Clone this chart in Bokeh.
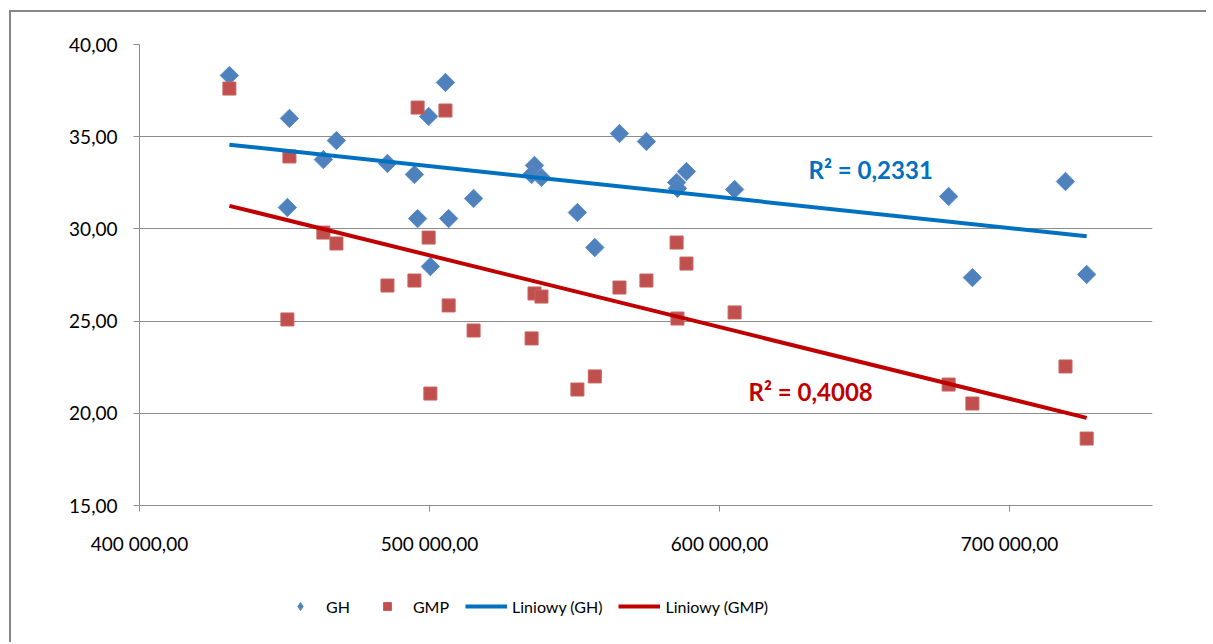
import numpy as np
from bokeh.plotting import figure
from bokeh.layouts import column
from bokeh.models import (FixedTicker, CustomJSTickFormatter, Legend, LegendItem,
                          ColumnDataSource, Range1d)
from bokeh.core.properties import value
from bokeh.embed import file_html
from bokeh.resources import INLINE

# ---- data ----
x_vals = [431000, 451700, 451000, 463400, 467900, 485500, 494800, 495900, 499700,
          500300, 505500, 506600, 515200, 536200, 535200, 538600, 551000, 557000,
          565500, 574800, 585200, 585500, 588600, 605200, 679000, 687200, 719300,
          726600]
gh_vals = [38.32, 35.99, 31.16, 33.76, 34.79, 33.55, 32.95, 30.56, 36.10,
           27.96, 37.94, 30.56, 31.65, 33.44, 32.95, 32.79, 30.89, 28.99,
           35.17, 34.74, 32.52, 32.20, 33.11, 32.14, 31.76, 27.36, 32.57,
           27.53]
gmp_vals = [37.61, 33.93, 25.09, 29.80, 29.21, 26.93, 27.20, 36.58, 29.53,
            21.07, 36.42, 25.85, 24.49, 26.50, 24.06, 26.33, 21.29, 22.00,
            26.82, 27.20, 29.26, 25.14, 28.12, 25.47, 21.56, 20.53, 22.54,
            18.63]
series_names = ["GH", "GMP", "Liniowy (GH)", "Liniowy (GMP)"]
r2_labels = ["R\u00b2 = 0,2331", "R\u00b2 = 0,4008"]
r2_pos_x = [630700, 610000]
r2_pos_y = [33.22, 21.18]
y_ticks = [15, 20, 25, 30, 35, 40]
x_ticks = [400000, 500000, 600000, 700000]

FONT = "Lato"
GRID = "#8c8c8c"
GH_COLOR, GH_EDGE = "#4F81BD", "#5B8CC6"
GMP_COLOR, GMP_EDGE = "#C0504D", "#C8625F"
TR_GH, TR_GMP = "#0070C0", "#C00000"

p = figure(width=1195, height=568, output_backend="svg", toolbar_location=None,
           x_range=Range1d(400000, 749300), y_range=Range1d(15, 40),
           min_border_left=128, min_border_right=54, min_border_top=32,
           min_border_bottom=75, background_fill_color="white",
           border_fill_color="white")
p.outline_line_color = None

# axes
p.yaxis.ticker = FixedTicker(ticks=y_ticks)
p.xaxis.ticker = FixedTicker(ticks=x_ticks)
p.yaxis.formatter = CustomJSTickFormatter(code="return tick.toFixed(2).replace('.', ',');")
p.xaxis.formatter = CustomJSTickFormatter(code="""
const s = tick.toFixed(2);
const parts = s.split('.');
return parts[0].replace(/\\B(?=(\\d{3})+(?!\\d))/g, ' ') + ',' + parts[1];
""")
for ax in (p.xaxis, p.yaxis):
    ax.axis_line_color = GRID
    ax.major_tick_line_color = GRID
    ax.major_tick_out = 6
    ax.major_tick_in = 0
    ax.minor_tick_line_color = None
    ax.major_label_text_font = FONT
    ax.major_label_text_font_size = "19px"
    ax.major_label_text_color = "#000000"
p.yaxis.major_label_standoff = 16
p.xaxis.major_label_standoff = 20

p.xgrid.grid_line_color = None
p.ygrid.grid_line_color = GRID
p.ygrid.grid_line_width = 1

# scatter
src = ColumnDataSource(dict(x=x_vals, gh=gh_vals, gmp=gmp_vals))
p.scatter("x", "gh", source=src, marker="square", size=13, angle=np.pi / 4,
          fill_color=GH_COLOR, line_color=GH_EDGE, line_width=1)
p.scatter("x", "gmp", source=src, marker="square", size=13,
          fill_color=GMP_COLOR, line_color=GMP_EDGE, line_width=1)

# linear trend lines (least squares, as in the spreadsheet)
xa = np.array(x_vals, dtype=float)
xs = [xa.min(), xa.max()]
k1, b1 = np.polyfit(xa, np.array(gh_vals), 1)
k2, b2 = np.polyfit(xa, np.array(gmp_vals), 1)
p.line(xs, [k1 * v + b1 for v in xs], line_color=TR_GH, line_width=4)
p.line(xs, [k2 * v + b2 for v in xs], line_color=TR_GMP, line_width=4)

# R^2 labels
p.text(x=[r2_pos_x[0]], y=[r2_pos_y[0]], text=[r2_labels[0]], text_font=value(FONT),
       text_font_size="24px", text_font_style="bold", text_color=TR_GH,
       text_baseline="middle", text_align="left")
p.text(x=[r2_pos_x[1]], y=[r2_pos_y[1]], text=[r2_labels[1]], text_font=value(FONT),
       text_font_size="24px", text_font_style="bold", text_color=TR_GMP,
       text_baseline="middle", text_align="left")

# ---- legend strip (separate figure below the chart, same styles) ----
lg = figure(width=1195, height=62, output_backend="svg", toolbar_location=None,
            x_range=Range1d(0, 1000), y_range=Range1d(0, 62),
            x_axis_location=None, y_axis_location=None,
            min_border=0, min_border_left=0, min_border_right=0,
            min_border_top=0, min_border_bottom=0,
            background_fill_color="white", border_fill_color="white")
lg.outline_line_color = None
lg.grid.visible = False
# legend-only renderers, their single point lies outside the visible strip
d_src = ColumnDataSource(dict(x=[-5000], y=[-5000]))
d_gh = lg.scatter("x", "y", source=d_src, marker="diamond", size=13,
                  fill_color=GH_COLOR, line_color=GH_EDGE, line_width=1)
d_gmp = lg.scatter("x", "y", source=d_src, marker="square", size=13,
                   fill_color=GMP_COLOR, line_color=GMP_EDGE, line_width=1)
d_lgh = lg.line("x", "y", source=d_src, line_color=TR_GH, line_width=4)
d_lgmp = lg.line("x", "y", source=d_src, line_color=TR_GMP, line_width=4)

legend = Legend(items=[LegendItem(label=series_names[0], renderers=[d_gh]),
                       LegendItem(label=series_names[1], renderers=[d_gmp]),
                       LegendItem(label=series_names[2], renderers=[d_lgh]),
                       LegendItem(label=series_names[3], renderers=[d_lgmp])],
                orientation="horizontal", location=(140, 26),
                label_text_font=FONT, label_text_font_size="16px",
                label_text_color="#000000", glyph_width=42, glyph_height=20,
                label_height=20, label_standoff=5, spacing=16, padding=0,
                margin=0, border_line_color=None, background_fill_alpha=0)
lg.add_layout(legend, "center")

layout = column(p, lg, spacing=0,
                styles={"margin-left": "9px", "margin-top": "10px",
                        "border-left": "2px solid #878787",
                        "border-top": "2px solid #878787"})

open("out.html", "w").write(file_html(layout, INLINE))
